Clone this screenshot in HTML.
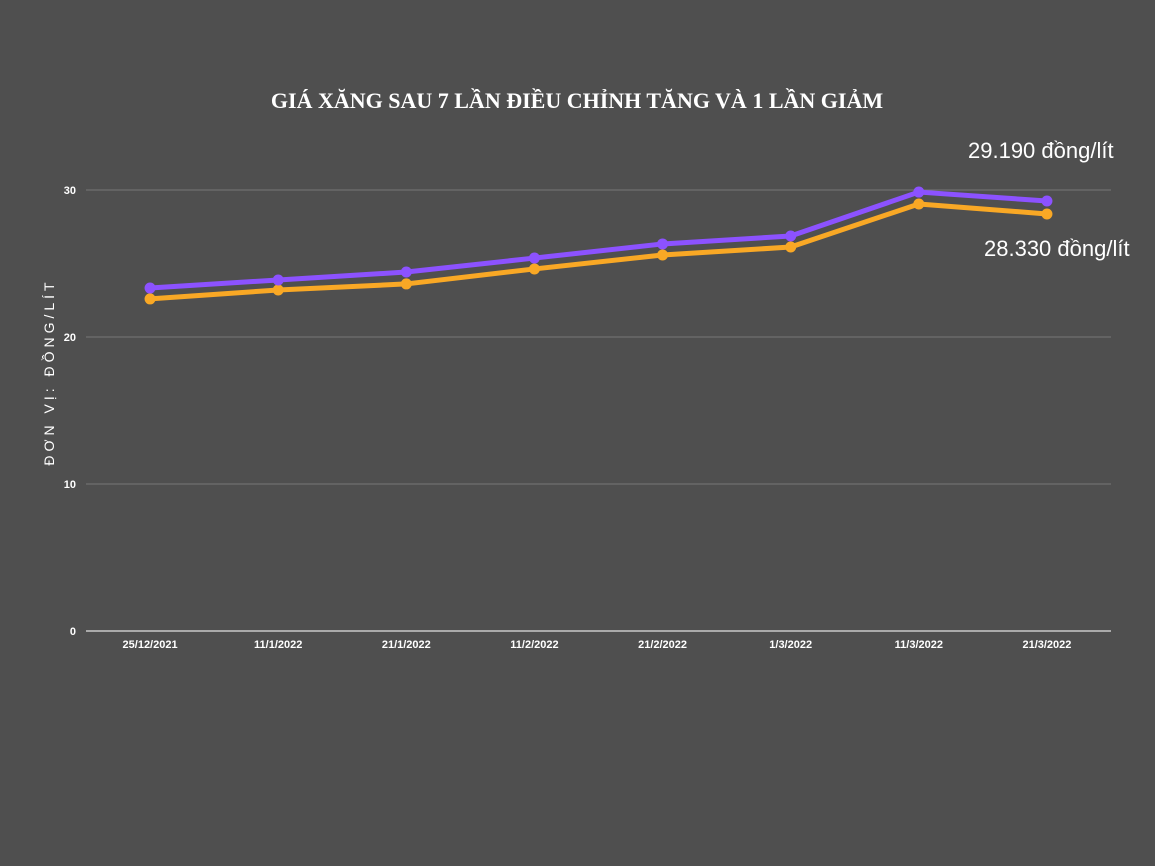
<!DOCTYPE html>
<html><head><meta charset="utf-8"><style>
body{margin:0;background:#4f4f4f;width:1155px;height:866px;overflow:hidden}
svg{display:block}
</style></head><body>
<svg id="chart" width="1155" height="866" xmlns="http://www.w3.org/2000/svg">
<rect width="1155" height="866" fill="#4f4f4f"/>
<text x="577" y="108" text-anchor="middle" fill="#fff" font-family="'Liberation Serif',serif" font-weight="bold" font-size="22">GIÁ XĂNG SAU 7 LẦN ĐIỀU CHỈNH TĂNG VÀ 1 LẦN GIẢM</text>
<text transform="translate(54,372) rotate(-90)" text-anchor="middle" fill="#fff" font-family="'Liberation Sans',sans-serif" font-size="14" letter-spacing="4">ĐƠN VỊ: ĐỒNG/LÍT</text>
<g id="grid"></g><g id="xlabels"></g><g id="series"></g>
<text x="968" y="158" fill="#fff" font-family="'Liberation Sans',sans-serif" font-size="22">29.190 đồng/lít</text>
<text x="984" y="256" fill="#fff" font-family="'Liberation Sans',sans-serif" font-size="22">28.330 đồng/lít</text>
</svg>
<script>
const categories=["25/12/2021","11/1/2022","21/1/2022","11/2/2022","21/2/2022","1/3/2022","11/3/2022","21/3/2022"];
const ron95=[23.33,23.88,24.42,25.37,26.33,26.87,29.86,29.25];
const e5=[22.59,23.2,23.61,24.63,25.58,26.12,29.05,28.37];
const yTicks=[0,10,20,30];
const NS="http://www.w3.org/2000/svg";
const x0=86,x1=1111,yBase=631,pxPerUnit=14.7;
const xs=i=>x0+(x1-x0)/categories.length*(i+0.5);
const ys=v=>yBase-v*pxPerUnit;
function mk(t,a,p){const e=document.createElementNS(NS,t);for(const k in a)e.setAttribute(k,a[k]);p.appendChild(e);return e;}
const grid=document.getElementById('grid');
yTicks.forEach(v=>{
 const l=mk('line',{x1:x0,x2:x1,y1:ys(v),y2:ys(v),stroke:v===0?'#aaa':'#777','stroke-width':v===0?2:1},grid);
 
 
 const t=mk('text',{x:76,y:ys(v)+4,'text-anchor':'end',fill:'#fff','font-family':'Liberation Sans,sans-serif','font-size':11,'font-weight':'bold'},grid);
 t.textContent=v;
 
 
});
const xl=document.getElementById('xlabels');
categories.forEach((c,i)=>{
 const t=mk('text',{x:xs(i),y:648,'text-anchor':'middle',fill:'#fff','font-family':'Liberation Sans,sans-serif','font-size':11,'font-weight':'bold'},xl);
 t.textContent=c;
 
 
});
const sg=document.getElementById('series');
[[e5,'#f9a825','orange'],[ron95,'#8c52ff','purple']].forEach(([d,col,n])=>{
 const p=mk('polyline',{points:d.map((v,i)=>xs(i)+','+ys(v)).join(' '),fill:'none',stroke:col,'stroke-width':5,'stroke-linejoin':'round'},sg);
 
 
 d.forEach((v,i)=>{
  const c=mk('circle',{cx:xs(i),cy:ys(v),r:5.5,fill:col},sg);
  
  
 });
});
</script>
</body></html>
